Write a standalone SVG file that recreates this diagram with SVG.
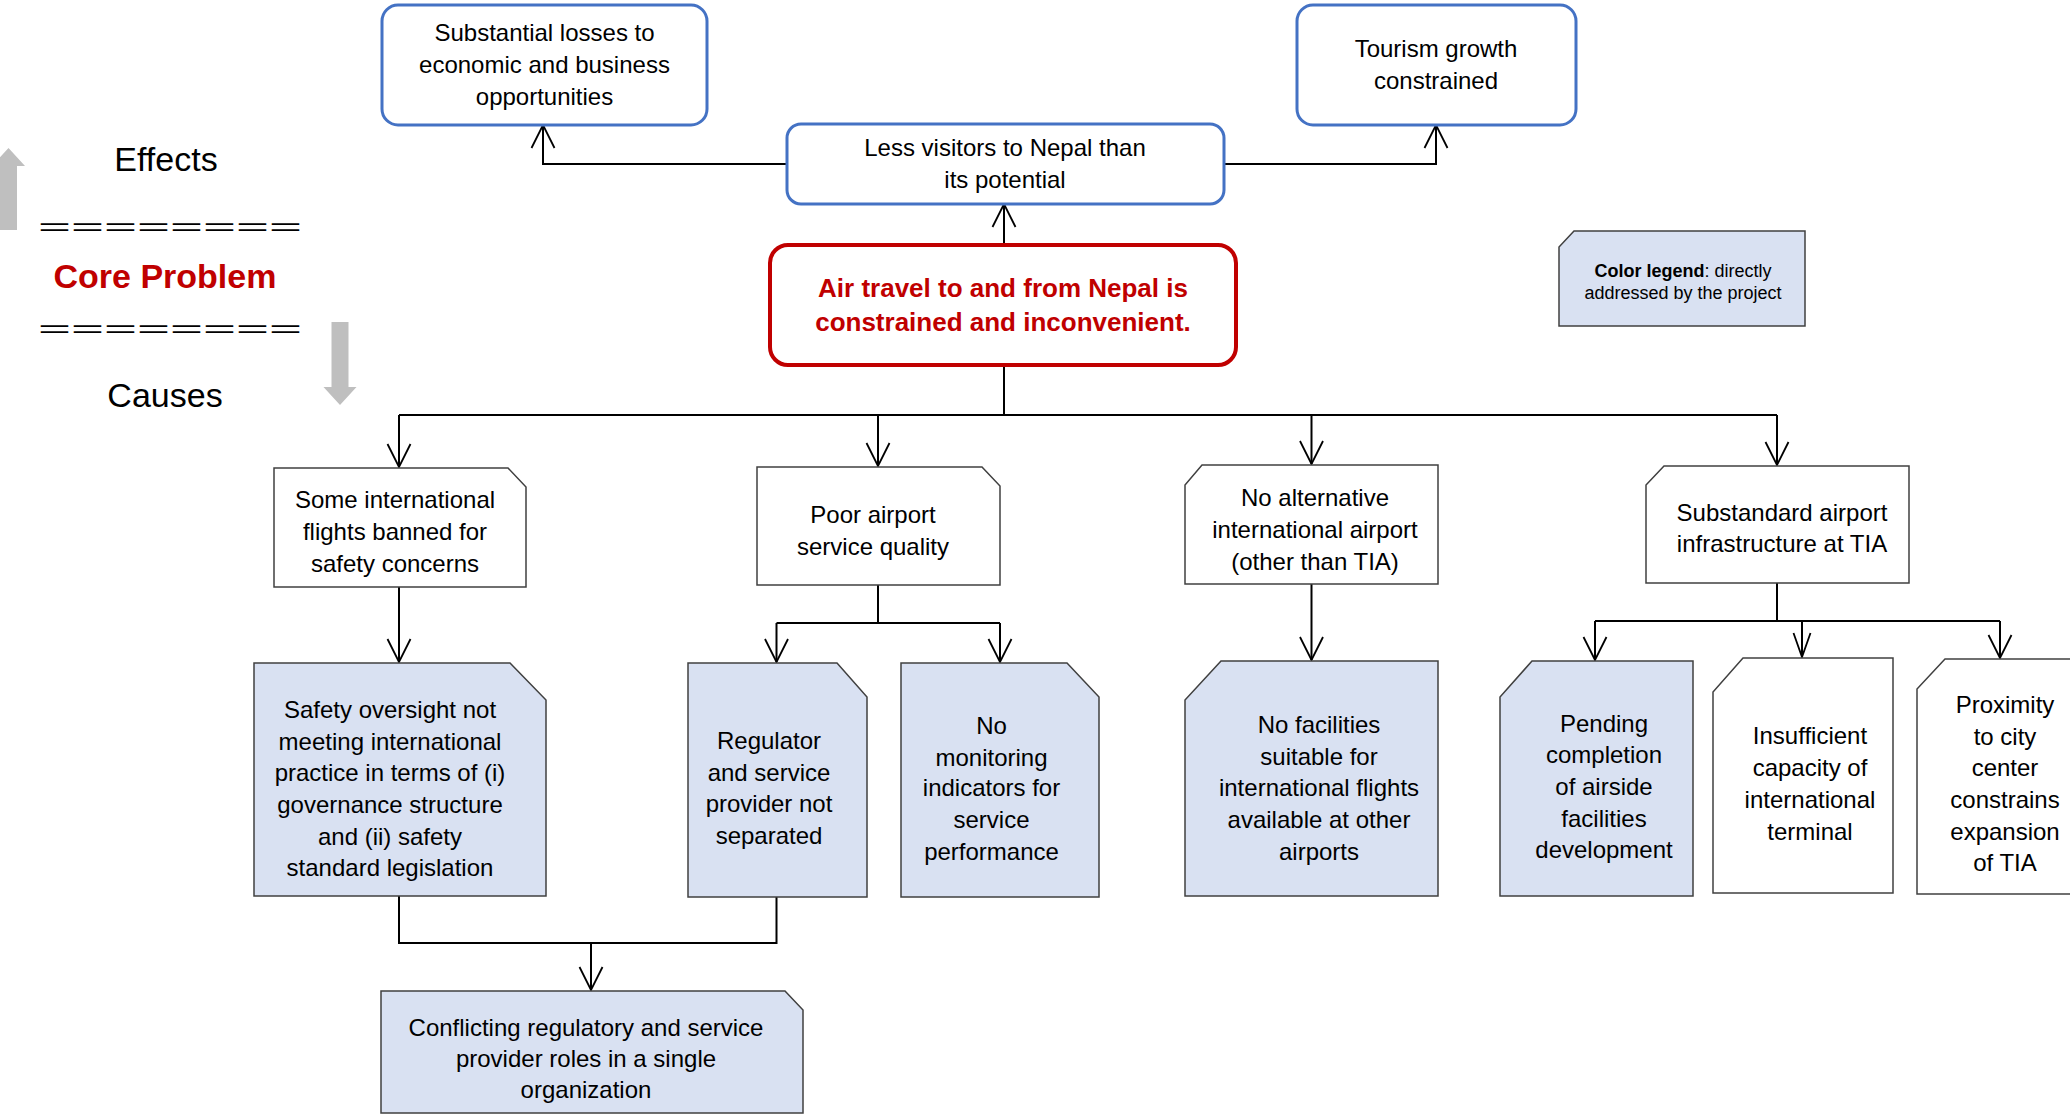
<svg xmlns="http://www.w3.org/2000/svg" width="2070" height="1114" viewBox="0 0 2070 1114">
<style>
text{font-family:"Liberation Sans",Arial,sans-serif;fill:#000}
.t{font-size:24px;text-anchor:middle}
.big{font-size:34px;text-anchor:middle}
.core{font-size:26px;font-weight:bold;fill:#C00000;text-anchor:middle}
.eq{font-size:24px}
.eff{fill:#fff;stroke:#4472C4;stroke-width:3}
.cp{fill:#fff;stroke:#C00000;stroke-width:4}
.w{fill:#fff;stroke:#404040;stroke-width:1.5}
.b{fill:#D9E1F2;stroke:#404040;stroke-width:1.5}
.c{fill:none;stroke:#000;stroke-width:2}
.a{marker-end:url(#arr)}
.as{marker-end:url(#arrs)}
.g{fill:#BFBFBF}
</style>
<defs>
<marker id="arr" markerUnits="userSpaceOnUse" markerWidth="30" markerHeight="30" viewBox="-26 -15 30 30" refX="0" refY="0" orient="auto" overflow="visible">
<path d="M-23,-11.5 L0,0 L-23,11.5" fill="none" stroke="#000" stroke-width="1.8"/>
</marker>
<marker id="arrs" markerUnits="userSpaceOnUse" markerWidth="30" markerHeight="30" viewBox="-26 -15 30 30" refX="0" refY="0" orient="auto" overflow="visible">
<path d="M-24,-8.5 L0,0 L-24,8.5" fill="none" stroke="#000" stroke-width="1.8"/>
</marker>
</defs>
<rect width="2070" height="1114" fill="#fff"/>

<g id="side-labels">
<polygon class="g" points="0,230 17,230 17,166 25,166 8.5,148 -8,166 0,166"/>
<polygon class="g" points="331.5,322 348.5,322 348.5,387 356.5,387 340,405 323.5,387 331.5,387"/>
<text class="big" x="166" y="171">Effects</text>
<text class="eq" x="38" y="234.5" textLength="264" lengthAdjust="spacingAndGlyphs">========</text>
<text class="big" x="165" y="288" style="font-weight:bold;fill:#C00000">Core Problem</text>
<text class="eq" x="38" y="337" textLength="264" lengthAdjust="spacingAndGlyphs">========</text>
<text class="big" x="165" y="407">Causes</text>
</g>

<g id="connectors">
<path class="c a" d="M787,164 H543 V125"/>
<path class="c a" d="M1224,164 H1436 V125"/>
<path class="c a" d="M1004,245 V204"/>
<path class="c" d="M1004,365 V415 M399,415 H1777"/>
<path class="c a" d="M399,415 V467"/>
<path class="c a" d="M878,415 V466"/>
<path class="c a" d="M1311.5,415 V464"/>
<path class="c a" d="M1777,415 V465"/>
<path class="c a" d="M399,587 V662"/>
<path class="c" d="M878,585 V623 M776.5,623 H1000"/>
<path class="c a" d="M776.5,623 V662"/>
<path class="c a" d="M1000,623 V662"/>
<path class="c a" d="M1311.5,584 V660"/>
<path class="c" d="M1777,583 V621 M1595,621 H2000"/>
<path class="c a" d="M1595,621 V660"/>
<path class="c as" d="M1802,621 V657"/>
<path class="c a" d="M2000,621 V658"/>
<path class="c" d="M399,896 V943 H776.5 V897"/>
<path class="c a" d="M591,943 V990"/>
</g>

<g id="effect-losses">
<rect class="eff" x="382" y="5" width="325" height="120" rx="16"/>
<text class="t" x="544.5" y="41">Substantial losses to</text>
<text class="t" x="544.5" y="73">economic and business</text>
<text class="t" x="544.5" y="105">opportunities</text>
</g>
<g id="effect-visitors">
<rect class="eff" x="787" y="124" width="437" height="80" rx="14"/>
<text class="t" x="1005" y="156">Less visitors to Nepal than</text>
<text class="t" x="1005" y="188">its potential</text>
</g>
<g id="effect-tourism">
<rect class="eff" x="1297" y="5" width="279" height="120" rx="16"/>
<text class="t" x="1436" y="57">Tourism growth</text>
<text class="t" x="1436" y="89">constrained</text>
</g>

<g id="core-problem">
<rect class="cp" x="770" y="245" width="466" height="120" rx="18"/>
<text class="core" x="1003" y="297">Air travel to and from Nepal is</text>
<text class="core" x="1003" y="331">constrained and inconvenient.</text>
</g>

<g id="legend">
<path class="b" d="M1574,231 H1805 V326 H1559 V247 Z"/>
<text x="1683" y="277" style="font-size:18px;text-anchor:middle"><tspan font-weight="bold">Color legend</tspan>: directly</text>
<text x="1683" y="299" style="font-size:18px;text-anchor:middle">addressed by the project</text>
</g>

<g id="cause-flights-banned">
<path class="w" d="M274,468 H508 L526,487 V587 H274 Z"/>
<text class="t" x="395" y="508">Some international</text>
<text class="t" x="395" y="540">flights banned for</text>
<text class="t" x="395" y="572">safety concerns</text>
</g>
<g id="cause-poor-service">
<path class="w" d="M757,467 H982 L1000,486 V585 H757 Z"/>
<text class="t" x="873" y="523">Poor airport</text>
<text class="t" x="873" y="555">service quality</text>
</g>
<g id="cause-no-alternative">
<path class="w" d="M1202,465 H1438 V584 H1185 V485 Z"/>
<text class="t" x="1315" y="506">No alternative</text>
<text class="t" x="1315" y="538">international airport</text>
<text class="t" x="1315" y="570">(other than TIA)</text>
</g>
<g id="cause-substandard">
<path class="w" d="M1664,466 H1909 V583 H1646 V485 Z"/>
<text class="t" x="1782" y="521">Substandard airport</text>
<text class="t" x="1782" y="552">infrastructure at TIA</text>
</g>

<g id="cause-safety-oversight">
<path class="b" d="M254,663 H510 L546,700 V896 H254 Z"/>
<text class="t" x="390" y="718">Safety oversight not</text>
<text class="t" x="390" y="750">meeting international</text>
<text class="t" x="390" y="781">practice in terms of (i)</text>
<text class="t" x="390" y="813">governance structure</text>
<text class="t" x="390" y="845">and (ii) safety</text>
<text class="t" x="390" y="876">standard legislation</text>
</g>
<g id="cause-regulator">
<path class="b" d="M688,663 H837 L867,697 V897 H688 Z"/>
<text class="t" x="769" y="749">Regulator</text>
<text class="t" x="769" y="781">and service</text>
<text class="t" x="769" y="812">provider not</text>
<text class="t" x="769" y="844">separated</text>
</g>
<g id="cause-no-monitoring">
<path class="b" d="M901,663 H1067 L1099,697 V897 H901 Z"/>
<text class="t" x="991.5" y="734">No</text>
<text class="t" x="991.5" y="766">monitoring</text>
<text class="t" x="991.5" y="796">indicators for</text>
<text class="t" x="991.5" y="828">service</text>
<text class="t" x="991.5" y="860">performance</text>
</g>
<g id="cause-no-facilities">
<path class="b" d="M1221,661 H1438 V896 H1185 V700 Z"/>
<text class="t" x="1319" y="733">No facilities</text>
<text class="t" x="1319" y="765">suitable for</text>
<text class="t" x="1319" y="796">international flights</text>
<text class="t" x="1319" y="828">available at other</text>
<text class="t" x="1319" y="860">airports</text>
</g>
<g id="cause-pending-airside">
<path class="b" d="M1532,661 H1693 V896 H1500 V697 Z"/>
<text class="t" x="1604" y="732">Pending</text>
<text class="t" x="1604" y="763">completion</text>
<text class="t" x="1604" y="795">of airside</text>
<text class="t" x="1604" y="827">facilities</text>
<text class="t" x="1604" y="858">development</text>
</g>
<g id="cause-insufficient-terminal">
<path class="w" d="M1743,658 H1893 V893 H1713 V692 Z"/>
<text class="t" x="1810" y="744">Insufficient</text>
<text class="t" x="1810" y="776">capacity of</text>
<text class="t" x="1810" y="808">international</text>
<text class="t" x="1810" y="840">terminal</text>
</g>
<g id="cause-proximity">
<path class="w" d="M1945,659 H2095 V894 H1917 V689 Z"/>
<text class="t" x="2005" y="713">Proximity</text>
<text class="t" x="2005" y="745">to city</text>
<text class="t" x="2005" y="776">center</text>
<text class="t" x="2005" y="808">constrains</text>
<text class="t" x="2005" y="840">expansion</text>
<text class="t" x="2005" y="871">of TIA</text>
</g>

<g id="cause-conflicting-roles">
<path class="b" d="M381,991 H785 L803,1010 V1113 H381 Z"/>
<text class="t" x="586" y="1036">Conflicting regulatory and service</text>
<text class="t" x="586" y="1067">provider roles in a single</text>
<text class="t" x="586" y="1098">organization</text>
</g>
</svg>
